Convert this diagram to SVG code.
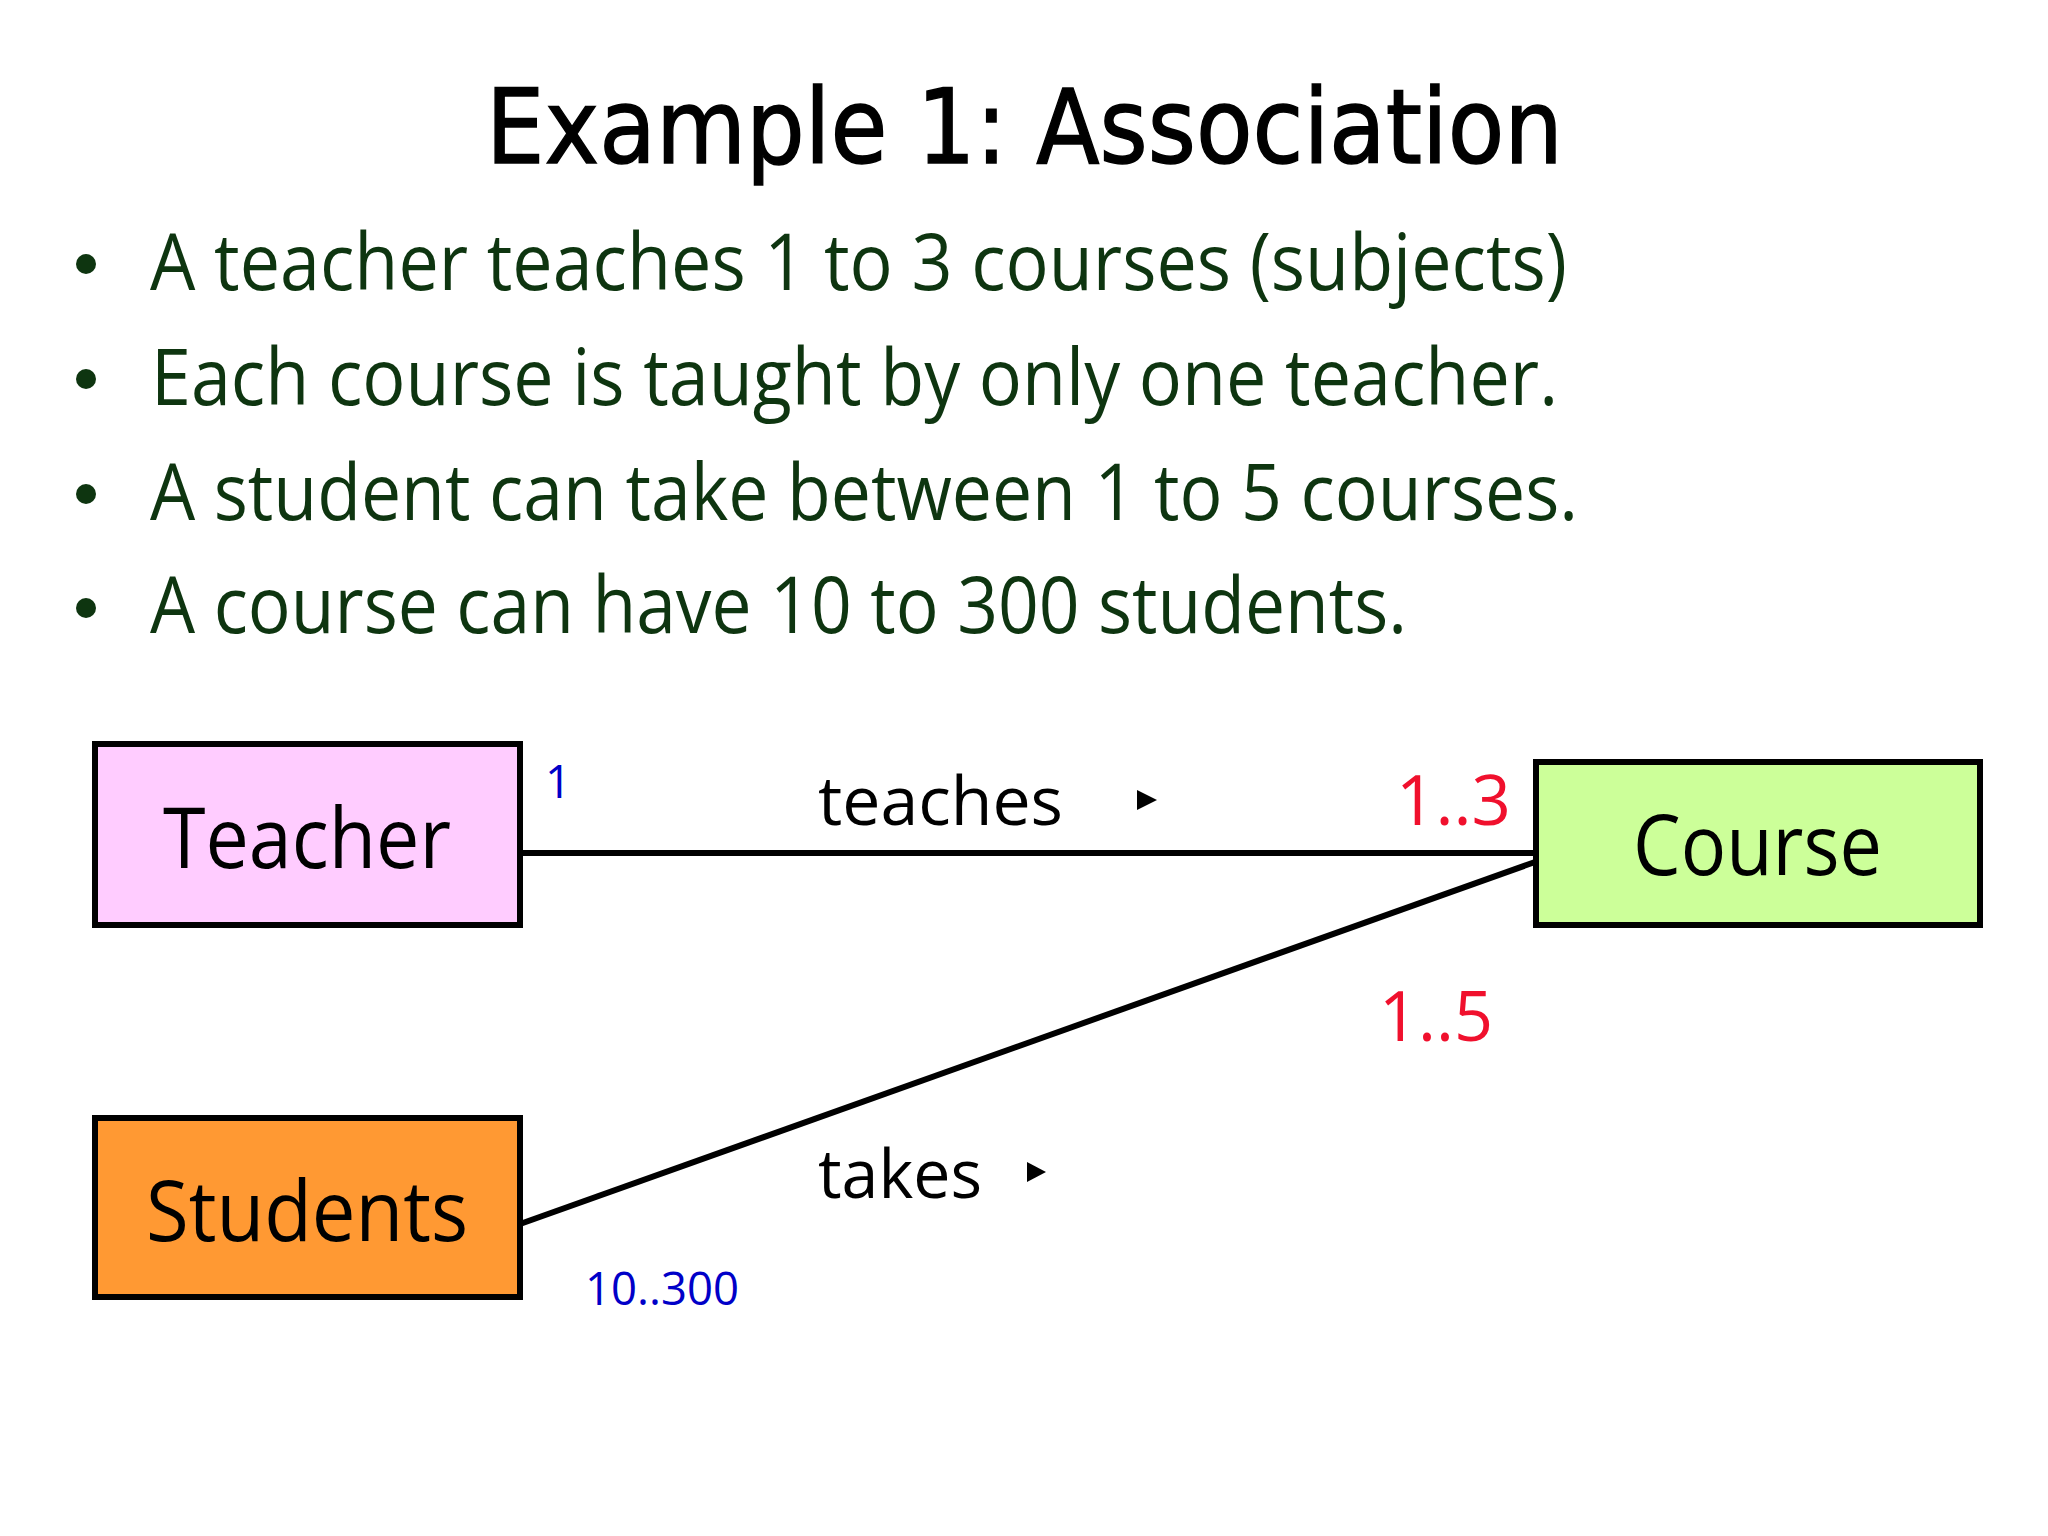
<svg xmlns="http://www.w3.org/2000/svg" width="2048" height="1536" viewBox="0 0 2048 1536">
<style>
.title{font-family:"DejaVu Sans","Noto Sans",sans-serif;font-size:104px;fill:#000;stroke:#000;stroke-width:1.5}
.bul{font-family:"Open Sans","Noto Sans",sans-serif;font-size:78px;fill:#0e3510}
.dot{fill:#0e3510}
.box{stroke:#000;stroke-width:6}
.lbl{font-family:"Open Sans","Noto Sans",sans-serif;font-size:84px;fill:#000}
.rel{font-family:"Open Sans","Noto Sans",sans-serif;font-size:68px;fill:#000}
.red{font-family:"Open Sans","Noto Sans",sans-serif;font-size:70px;fill:#f0102d}
.blue{font-family:"Open Sans","Noto Sans",sans-serif;font-size:46px;fill:#0000c8}
.conn{stroke:#000;stroke-width:6;fill:none}
</style>
<rect width="2048" height="1536" fill="#ffffff"/>
<text class="title" x="486" y="163" textLength="1077" lengthAdjust="spacingAndGlyphs">Example 1: Association</text>
<g id="bullets">
<circle class="dot" cx="86" cy="264" r="10"/>
<text class="bul" x="150" y="290" textLength="1417" lengthAdjust="spacingAndGlyphs">A teacher teaches 1 to 3 courses (subjects)</text>
<circle class="dot" cx="86" cy="379" r="10"/>
<text class="bul" x="151" y="405" textLength="1407" lengthAdjust="spacingAndGlyphs">Each course is taught by only one teacher.</text>
<circle class="dot" cx="86" cy="494" r="10"/>
<text class="bul" x="150" y="520" textLength="1428" lengthAdjust="spacingAndGlyphs">A student can take between 1 to 5 courses.</text>
<circle class="dot" cx="86" cy="608" r="10"/>
<text class="bul" x="150" y="633" textLength="1257" lengthAdjust="spacingAndGlyphs">A course can have 10 to 300 students.</text>
</g>
<g id="connectors">
<line class="conn" x1="520" y1="853" x2="1535" y2="853"/>
<line class="conn" x1="520" y1="1224" x2="1535" y2="862"/>
<text class="rel" x="818" y="825" textLength="245" lengthAdjust="spacingAndGlyphs">teaches</text>
<polygon points="1137,790 1157,800 1137,810" fill="#000"/>
<text class="rel" x="818" y="1198" textLength="164" lengthAdjust="spacingAndGlyphs">takes</text>
<polygon points="1027,1162 1046,1172 1027,1182" fill="#000"/>
<text class="blue" x="545" y="798">1</text>
<text class="red" x="1396" y="825" textLength="115" lengthAdjust="spacingAndGlyphs">1..3</text>
<text class="red" x="1379" y="1041" textLength="114" lengthAdjust="spacingAndGlyphs">1..5</text>
<text class="blue" x="585" y="1305" textLength="154" lengthAdjust="spacingAndGlyphs">10..300</text>
</g>
<g id="teacher">
<rect class="box" x="95" y="744" width="425" height="181" fill="#ffccff"/>
<text class="lbl" x="163" y="868" textLength="288" lengthAdjust="spacingAndGlyphs">Teacher</text>
</g>
<g id="course">
<rect class="box" x="1536" y="762" width="444" height="163" fill="#ccff99"/>
<text class="lbl" x="1633" y="875" textLength="249" lengthAdjust="spacingAndGlyphs">Course</text>
</g>
<g id="students">
<rect class="box" x="95" y="1118" width="425" height="179" fill="#ff9933"/>
<text class="lbl" x="146" y="1241" textLength="322" lengthAdjust="spacingAndGlyphs">Students</text>
</g>
</svg>
